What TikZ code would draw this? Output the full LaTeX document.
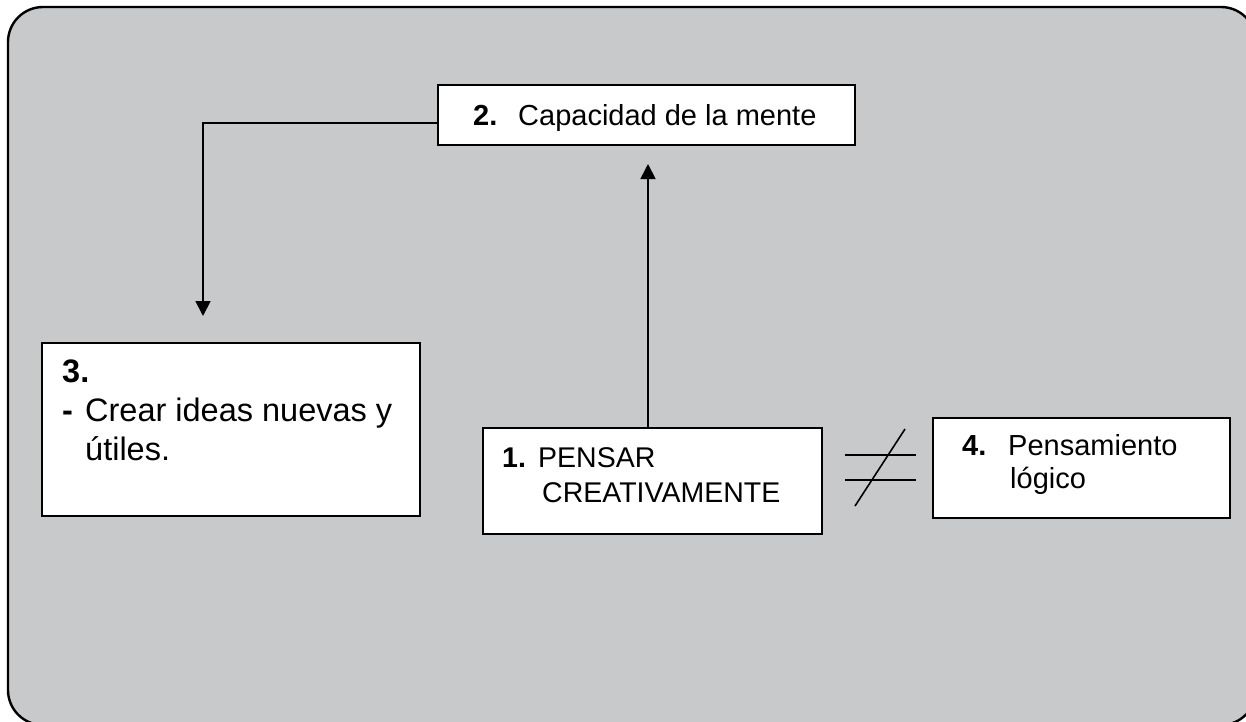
\documentclass[tikz,border=0pt]{standalone}
\usepackage{fontspec}
\setmainfont{Liberation Sans}
\usetikzlibrary{arrows.meta}
\definecolor{bggray}{RGB}{200,201,203}
\tikzset{
  box/.style={draw=black, fill=white, line width=1.8pt, inner sep=0pt, anchor=north west},
  txt/.style={inner sep=0pt, anchor=base west},
  conn/.style={draw=black, line width=1.8pt},
  arr/.style={conn, -{Triangle[width=15pt,length=15pt]}},
  neq/.style={draw=black, line width=1.6pt}
}
\newcommand{\fa}{\fontsize{29}{35}\selectfont}
\newcommand{\fb}{\fontsize{32.5}{39}\selectfont}
\begin{document}
\begin{tikzpicture}[x=1pt,y=-1pt]
\useasboundingbox (0,0) rectangle (1246,721);
\begin{scope}
\clip (0,0) rectangle (1246,721);
\draw[fill=bggray, line width=2.4pt, rounded corners=35pt] (8,7) rectangle (1256,725);
\end{scope}

% boxes
\node[box, minimum width=417pt, minimum height=60pt] (b2) at (437,84) {};
\node[box, minimum width=378pt, minimum height=173pt] (b3) at (41,342) {};
\node[box, minimum width=339pt, minimum height=106pt] (b1) at (482,427) {};
\node[box, minimum width=297pt, minimum height=100pt] (b4) at (932,417) {};

% texts
\node[txt] (t2a) at (473,125) {\fa\bfseries 2.};
\node[txt] (t2b) at (518,125) {\fa Capacidad de la mente};

\node[txt] (t3a) at (62,382) {\fb\bfseries 3.};
\node[txt] (t3b) at (62,421) {\fb\bfseries -};
\node[txt] (t3c) at (85,421) {\fb Crear ideas nuevas y};
\node[txt] (t3d) at (85,460) {\fb útiles.};

\node[txt] (t1a) at (502,467) {\fontsize{28.5}{34}\selectfont\bfseries 1.};
\node[txt] (t1b) at (538,467) {\fontsize{28.5}{34}\selectfont PENSAR};
\node[txt] (t1c) at (542,502) {\fontsize{28.5}{34}\selectfont CREATIVAMENTE};

\node[txt] (t4a) at (962,455) {\fa\bfseries 4.};
\node[txt] (t4b) at (1008,455) {\fa Pensamiento};
\node[txt] (t4c) at (1010,488) {\fa lógico};

% connectors
\coordinate (c3) at (203,316);
\coordinate (c1top) at (648,427);
\coordinate (c2tip) at (648,164);
\draw[arr] ([yshift=-8pt]b2.west) -| (c3);
\draw[arr] (c1top) -- (c2tip);

% not-equal sign
\coordinate (n1) at (845,455);
\coordinate (n2) at (916,455);
\coordinate (n3) at (845,480);
\coordinate (n4) at (916,480);
\coordinate (n5) at (905,429);
\coordinate (n6) at (855,506);
\draw[neq] (n1) -- (n2);
\draw[neq] (n3) -- (n4);
\draw[neq] (n5) -- (n6);
\end{tikzpicture}
\end{document}
